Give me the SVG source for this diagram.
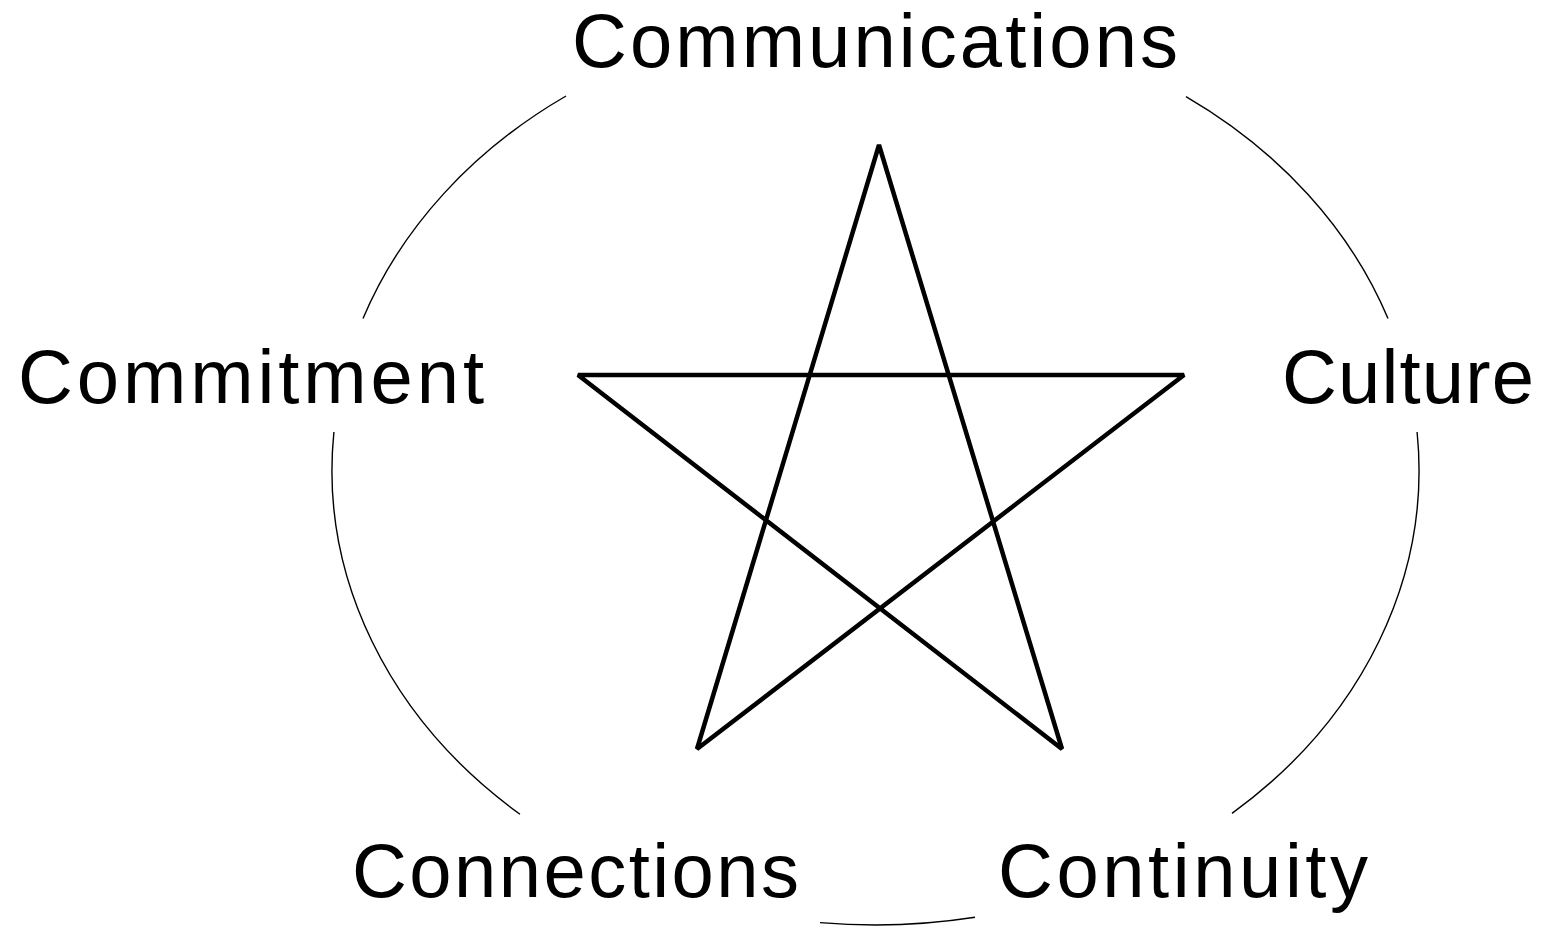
<svg xmlns="http://www.w3.org/2000/svg" width="1551" height="926" viewBox="0 0 1551 926">
<style>
.lbl{font-family:"Liberation Sans",Arial,sans-serif;font-size:76px;fill:#000}
.arc{fill:none;stroke:#000;stroke-width:1.4}
.star{fill:none;stroke:#000;stroke-width:4.5;stroke-linejoin:bevel}
</style>
<rect width="1551" height="926" fill="#fff"/>
<g id="connectors">
<path class="arc" d="M363,318.5 A543.5,455 0 0 1 566,96"/>
<path class="arc" d="M1186,96.6 A543.5,455 0 0 1 1388,318.5"/>
<path class="arc" d="M333.9,432 A543.5,455 0 0 0 520,814.2"/>
<path class="arc" d="M1417.1,432 A543.5,455 0 0 1 1232,813.4"/>
<path class="arc" d="M820,922.6 A543.5,455 0 0 0 975,917.3"/>
</g>
<g id="star">
<path class="star" d="M879,145 L697,749 L1184,375 L578,375 L1062,749 Z"/>
</g>
<g id="communications"><text class="lbl" x="572" y="67" textLength="606" lengthAdjust="spacing">Communications</text></g>
<g id="commitment"><text class="lbl" x="18" y="403" textLength="466" lengthAdjust="spacing">Commitment</text></g>
<g id="culture"><text class="lbl" x="1282" y="403" textLength="252" lengthAdjust="spacing">Culture</text></g>
<g id="connections"><text class="lbl" x="352" y="897" textLength="447" lengthAdjust="spacing">Connections</text></g>
<g id="continuity"><text class="lbl" x="998" y="897" textLength="370" lengthAdjust="spacing">Continuity</text></g>
</svg>
